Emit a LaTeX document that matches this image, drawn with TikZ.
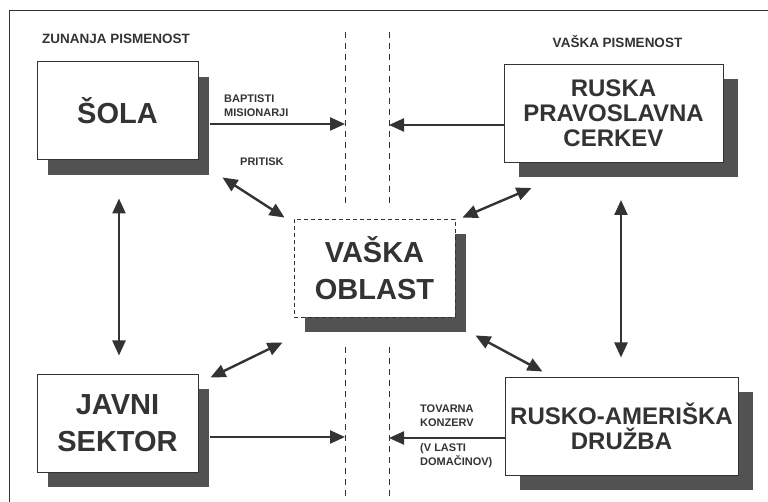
\documentclass[tikz,border=0pt]{standalone}
\usepackage{fontspec}
\setmainfont{Liberation Sans}
\usetikzlibrary{arrows.meta,calc,positioning,shadows}
\definecolor{ink}{gray}{0.2}
\definecolor{shade}{gray}{0.32}
\tikzset{%
	block/.style    = {draw=ink, line width=1pt, fill=white, rectangle, align=center, text=ink, minimum height=98pt},
	bigtext/.style  = {font=\bfseries\fontsize{29}{37}\selectfont},
	midtext/.style  = {font=\bfseries\fontsize{24}{25}\selectfont},
	shadowl/.style  = {drop shadow={shadow xshift=11pt, shadow yshift=-15pt, fill=shade, opacity=1}},
	shadowr/.style  = {drop shadow={shadow xshift=15pt, shadow yshift=-15pt, fill=shade, opacity=1}},
	tag/.style      = {text=ink, font=\bfseries\fontsize{11}{14}\selectfont, inner sep=0pt, align=left},
	head/.style     = {text=ink, font=\bfseries\fontsize{13.5}{15}\selectfont, inner sep=0pt},
	arrow/.style    = {draw=ink, line width=2.4pt},
	border/.style   = {draw=ink, line width=0.9pt, dash pattern=on 6pt off 5pt},
}

\begin{document}
\begin{tikzpicture}[x=1pt,y=-1pt,>={Triangle[length=15pt,width=13pt]}]
	\useasboundingbox (0,0) rectangle (768,502);
	\draw[ink, line width=1pt] (768,11) -- (9,11) -- (9,502);

	% boxes
	\node [block,bigtext,shadowl,minimum width=161pt] (sola) at (117.5,111) {\v{S}OLA};
	\node [block,midtext,shadowr,minimum width=219pt] (ruska) at (613.5,113.5) {RUSKA\\PRAVOSLAVNA\\CERKEV};
	\node [block,bigtext,shadowl,minimum width=161pt,dash pattern=on 4pt off 3pt,line width=0.9pt] (vaska) at (374.5,268) {VA\v{S}KA\\OBLAST};
	\node [block,bigtext,shadowl,minimum width=161pt] (javni) at (117.5,423) {JAVNI\\SEKTOR};
	\node [block,midtext,shadowr,minimum width=233pt] (rusko) at (621.5,426) {RUSKO-AMERI\v{S}KA\\DRU\v{Z}BA};

	% headings and labels
	\node [head,anchor=west] (zunanja) at (42,39) {ZUNANJA PISMENOST};
	\node [head] (vpis) at (617.5,42) {VA\v{S}KA PISMENOST};
	\node [tag,anchor=west] (baptisti) at (224,106) {BAPTISTI\\MISIONARJI};
	\node [tag,anchor=west] (pritisk) at (240,162) {PRITISK};
	\node [tag,anchor=west] (tovarna) at (420,416) {TOVARNA\\KONZERV};
	\node [tag,anchor=west] (lasti) at (420,455.5) {(V LASTI\\DOMA\v{C}INOV)};

	% dividing lines
	\coordinate (la) at (345,32);  \coordinate (lb) at (345,205);
	\coordinate (ra) at (389,32);  \coordinate (rb) at (389,205);
	\coordinate (lc) at (345,347); \coordinate (ld) at (345,497);
	\coordinate (rc) at (389,347); \coordinate (rd) at (389,497);
	\draw[border] (la) -- (lb);
	\draw[border] (ra) -- (rb);
	\draw[border] (lc) -- (ld);
	\draw[border] (rc) -- (rd);

	% connectors
	\draw[arrow,->] ($(sola.east)+(11,13)$) -- ($(sola.east -| la)+(0,13)$);
	\draw[arrow,->] ($(ruska.west)+(0,11.5)$) -- ($(ruska.west -| ra)+(0,11.5)$);
	\draw[arrow,->] ($(javni.east)+(11,14)$) -- ($(javni.east -| la)+(0,14)$);
	\draw[arrow,->] ($(rusko.west)+(0,12)$) -- ($(rusko.west -| ra)+(0,12)$);
	\draw[arrow,<->] ($(sola.south)+(1.5,38)$) -- ($(javni.north)+(1.5,-18)$);
	\draw[arrow,<->] ($(ruska.south)+(7.5,37)$) -- ($(rusko.north)+(-0.5,-19)$);
	\draw[arrow,<->] ($(sola.south east)+(24,17)$) -- ($(vaska.north west)+(-9,-1)$);
	\draw[arrow,<->] ($(vaska.north east)+(7,-1)$) -- ($(ruska.south west)+(28,25)$);
	\draw[arrow,<->] ($(javni.north east)+(12,4)$) -- ($(vaska.south west)+(-11,25)$);
	\draw[arrow,<->] ($(vaska.south east)+(20,18)$) -- ($(rusko.north west)+(38,-5)$);
\end{tikzpicture}
\end{document}
